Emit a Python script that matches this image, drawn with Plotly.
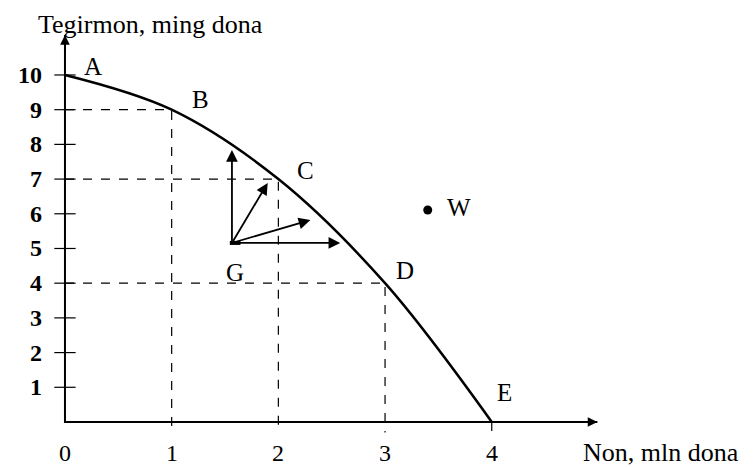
import plotly.graph_objects as go

# production possibilities frontier
ppf_x = [0, 1, 2, 3, 4]
ppf_y = [10, 9, 7, 4, 0]
point_names = ["A", "B", "C", "D", "E"]
label_x = [0.26, 1.27, 2.25, 3.19, 4.12]
label_y = [10.25, 9.28, 7.26, 4.38, 0.84]

x_ticks = [0, 1, 2, 3, 4]
y_ticks = [1, 2, 3, 4, 5, 6, 7, 8, 9, 10]

# point G and the arrows leaving it
g_x, g_y = 1.565, 5.16
arrow_x = [1.565, 1.90, 2.30, 2.58]
arrow_y = [7.84, 6.89, 5.82, 5.16]

# point W (outside the frontier)
w_x, w_y = 3.40, 6.11

x_end, y_end = 4.99, 11.15

serif = "Liberation Serif"
fig = go.Figure()

# dashed guide lines from B, C, D
for px, py in zip(ppf_x[1:4], ppf_y[1:4]):
    fig.add_trace(go.Scatter(x=[0, px, px], y=[py, py, -0.3], mode="lines",
                             line=dict(color="black", width=1.2, dash="dash"),
                             hoverinfo="skip"))
fig.add_trace(go.Scatter(x=[ppf_x[4], ppf_x[4]], y=[0, -0.3], mode="lines",
                         line=dict(color="black", width=1.2, dash="dash"),
                         hoverinfo="skip"))

# axes
fig.add_trace(go.Scatter(x=[0, 0, x_end], y=[y_end, 0, 0], mode="lines",
                         line=dict(color="black", width=2), hoverinfo="skip"))
# y ticks crossing the axis
for t in y_ticks:
    fig.add_trace(go.Scatter(x=[-0.1, 0.1], y=[t, t], mode="lines",
                             line=dict(color="black", width=1.2),
                             hoverinfo="skip"))

# frontier curve
fig.add_trace(go.Scatter(x=ppf_x, y=ppf_y, mode="lines",
                         line=dict(color="black", width=2.5, shape="spline"),
                         hoverinfo="skip"))

# W dot
fig.add_trace(go.Scatter(x=[w_x], y=[w_y], mode="markers",
                         marker=dict(color="black", size=9), hoverinfo="skip"))

# G blob
fig.add_trace(go.Scatter(x=[g_x - 0.02, g_x + 0.08], y=[g_y, g_y], mode="lines",
                         line=dict(color="black", width=4), hoverinfo="skip"))

ann = []
for ax_, ay_ in zip(arrow_x, arrow_y):
    ann.append(dict(x=ax_, y=ay_, ax=g_x, ay=g_y, xref="x", yref="y",
                    axref="x", ayref="y", showarrow=True, arrowhead=2,
                    arrowsize=1.3, arrowwidth=1.8, arrowcolor="black", text=""))
# axis arrows
ann.append(dict(x=0, y=y_end, ax=0, ay=y_end - 0.5, xref="x", yref="y",
                axref="x", ayref="y", showarrow=True, arrowhead=2,
                arrowsize=1.2, arrowwidth=1.6, arrowcolor="black", text=""))
ann.append(dict(x=x_end, y=0, ax=x_end - 0.2, ay=0, xref="x", yref="y",
                axref="x", ayref="y", showarrow=True, arrowhead=2,
                arrowsize=1.2, arrowwidth=1.6, arrowcolor="black", text=""))

for n, lx, ly in zip(point_names, label_x, label_y):
    ann.append(dict(x=lx, y=ly, text=n, showarrow=False,
                    font=dict(family=serif, size=25, color="black")))
ann.append(dict(x=1.59, y=4.32, text="G", showarrow=False,
                font=dict(family=serif, size=25, color="black")))
ann.append(dict(x=3.56, y=6.17, text="W", showarrow=False, xanchor="left",
                font=dict(family=serif, size=25, color="black")))

for t in y_ticks:
    ann.append(dict(x=-0.2, y=t, text="<b>%d</b>" % t, showarrow=False,
                    xanchor="right",
                    font=dict(family=serif, size=24, color="black")))
for t in x_ticks:
    ann.append(dict(x=t, y=-0.89, text=str(t), showarrow=False,
                    font=dict(family=serif, size=24, color="black")))

ann.append(dict(x=4.84, y=-0.89, text="Non, mln dona", showarrow=False,
                xanchor="left", font=dict(family=serif, size=26, color="black")))
ann.append(dict(x=-0.27, y=11.93, text="Tegirmon, ming dona", showarrow=False,
                xanchor="left", yanchor="top",
                font=dict(family=serif, size=26, color="black")))

fig.update_layout(
    width=746, height=459,
    margin=dict(l=0, r=0, t=0, b=0),
    paper_bgcolor="white", plot_bgcolor="white",
    showlegend=False,
    annotations=ann,
    xaxis=dict(range=[-0.534, 6.458], visible=False),
    yaxis=dict(range=[-1.297, 11.93], visible=False),
)

fig.write_html("out.html")
